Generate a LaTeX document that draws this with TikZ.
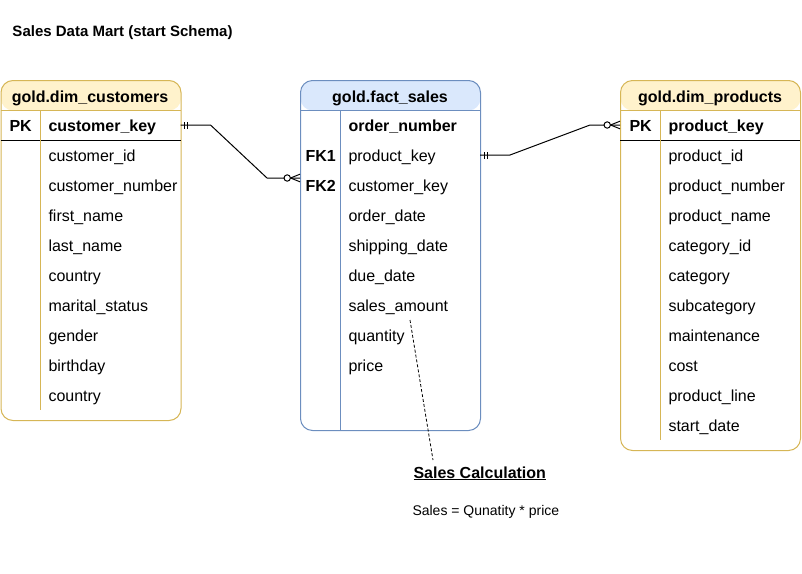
\documentclass[tikz,border=0pt]{standalone}
\usepackage{fontspec}
\setmainfont{Liberation Sans}
\definecolor{yfill}{HTML}{FFF2CC}
\definecolor{yline}{HTML}{D6B656}
\definecolor{bfill}{HTML}{DAE8FC}
\definecolor{bline}{HTML}{6C8EBF}
\tikzset{
  tbl/.style={rounded corners=12pt, minimum width=180pt, anchor=north west, inner sep=0pt, line width=1pt},
  hdr/.style={path picture={\fill[#1] (path picture bounding box.north west) rectangle ([yshift=-30pt]path picture bounding box.north east);}},
  fld/.style={anchor=base west, inner sep=0pt, font=\fontsize{16}{19}\selectfont},
  keyfld/.style={fld, font=\fontsize{16}{19}\selectfont\bfseries},
  ermandone/.pic={\draw (-4,-3.5) -- (-4,3.5); \draw (-7,-3.5) -- (-7,3.5);},
  erzeromany/.pic={\draw (-9.5,0) -- (0,-3.8); \draw (-9.5,0) -- (0,3.8); \draw[fill=white] (-12.8,0) circle (3.2pt);}
}
\begin{document}
\begin{tikzpicture}[x=1pt,y=-1pt,line width=1pt]
\useasboundingbox (0,0) rectangle (802,573);

% title
\node[keyfld, font=\fontsize{15}{18}\selectfont\bfseries] (title) at (12,36) {Sales Data Mart (start Schema)};

% ---------- dim_customers ----------
\node[tbl, draw=yline, hdr=yfill, minimum height=340pt] (custT) at (0.5,80) {};
\draw[yline] (0.5,110) -- (180.5,110);
\draw (0.5,140) -- (180.5,140);
\draw[yline] (40,110) -- (40,410);
\node[keyfld, anchor=base] (custH) at (90,102) {gold.dim\_customers};
\node[keyfld] (custPK) at (9,131) {PK};
\node[keyfld] (custK) at (48,131) {customer\_key};
\foreach \t [count=\i] in {customer\_id, customer\_number, first\_name, last\_name, country, marital\_status, gender, birthday, country}
  \node[fld] (cust\i) at (48,{131+30*\i}) {\t};

% ---------- fact_sales ----------
\node[tbl, draw=bline, hdr=bfill, minimum height=350pt] (factT) at (300,80) {};
\draw[bline] (300,110) -- (480,110);
\draw[bline] (340,110) -- (340,430);
\node[keyfld, anchor=base] (factH) at (390,102) {gold.fact\_sales};
\node[keyfld] (factK) at (348,131) {order\_number};
\node[keyfld] (fk1) at (305,161) {FK1};
\node[keyfld] (fk2) at (305,191) {FK2};
\foreach \t [count=\i] in {product\_key, customer\_key, order\_date, shipping\_date, due\_date, sales\_amount, quantity, price}
  \node[fld] (fact\i) at (348,{131+30*\i}) {\t};

% ---------- dim_products ----------
\node[tbl, draw=yline, hdr=yfill, minimum height=370pt] (prodT) at (620,80) {};
\draw[yline] (620,110) -- (800,110);
\draw (620,140) -- (800,140);
\draw[yline] (660,110) -- (660,440);
\node[keyfld, anchor=base] (prodH) at (710,102) {gold.dim\_products};
\node[keyfld] (prodPK) at (629,131) {PK};
\node[keyfld] (prodK) at (668,131) {product\_key};
\foreach \t [count=\i] in {product\_id, product\_number, product\_name, category\_id, category, subcategory, maintenance, cost, product\_line, start\_date}
  \node[fld] (prod\i) at (668,{131+30*\i}) {\t};

% ---------- connectors ----------
\coordinate (s1) at (180.5,125);
\coordinate (e1) at (300,178);
\draw (s1) -- ([xshift=30pt]s1) -- ([xshift=-33pt]e1) -- (e1);
\pic[rotate=180] at (s1) {ermandone};
\pic at (e1) {erzeromany};

\coordinate (s2) at (480,155);
\coordinate (e2) at (620,125);
\draw (s2) -- ([xshift=30pt]s2) -- ([xshift=-30pt]e2) -- (e2);
\pic[rotate=180] at (s2) {ermandone};
\pic at (e2) {erzeromany};

% ---------- note ----------
\node[keyfld] (calcH) at (413,478) {\underline{Sales Calculation}};
\node[fld, font=\fontsize{14}{17}\selectfont] (calcF) at (412,515) {Sales = Qunatity * price};
\coordinate (d1) at (410,320);
\coordinate (d2) at (433,460);
\draw[line width=0.8pt, dash pattern=on 3pt off 2pt] (d1) -- (d2);
\end{tikzpicture}
\end{document}
